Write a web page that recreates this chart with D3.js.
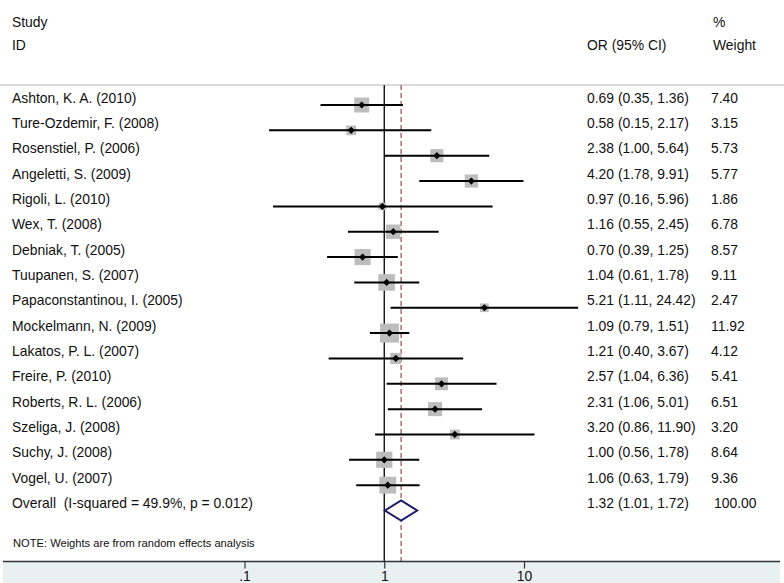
<!DOCTYPE html>
<html><head><meta charset="utf-8">
<script src="https://cdn.jsdelivr.net/npm/d3@7"></script>
<style>body{margin:0;background:#fff}svg{display:block}text{font-family:"Liberation Sans",Arial,sans-serif;fill:#111;white-space:pre}</style>
</head><body>
<script>
const studies = ["Ashton, K. A. (2010)","Ture-Ozdemir, F. (2008)","Rosenstiel, P. (2006)","Angeletti, S. (2009)","Rigoli, L. (2010)","Wex, T. (2008)","Debniak, T. (2005)","Tuupanen, S. (2007)","Papaconstantinou, I. (2005)","Mockelmann, N. (2009)","Lakatos, P. L. (2007)","Freire, P. (2010)","Roberts, R. L. (2006)","Szeliga, J. (2008)","Suchy, J. (2008)","Vogel, U. (2007)"];
const orValues = [0.69,0.58,2.38,4.20,0.97,1.16,0.70,1.04,5.21,1.09,1.21,2.57,2.31,3.20,1.00,1.06];
const lowerCI = [0.35,0.15,1.00,1.78,0.16,0.55,0.39,0.61,1.11,0.79,0.40,1.04,1.06,0.86,0.56,0.63];
const upperCI = [1.36,2.17,5.64,9.91,5.96,2.45,1.25,1.78,24.42,1.51,3.67,6.36,5.01,11.90,1.78,1.79];
const weights = [7.40,3.15,5.73,5.77,1.86,6.78,8.57,9.11,2.47,11.92,4.12,5.41,6.51,3.20,8.64,9.36];
const overallLabel = "Overall  (I-squared = 49.9%, p = 0.012)";
const overall = {or:1.32, lo:1.01, hi:1.72, weight:"100.00"};
const tickValues = [0.1, 1, 10];
const tickLabels = [".1", "1", "10"];
const noteText = "NOTE: Weights are from random effects analysis";

const W = 784, H = 583;
const svg = d3.select("body").append("svg").attr("width", W).attr("height", H);

const x = d3.scaleLog().domain([0.1, 10]).range([244.5, 524]);
const y = d3.scaleLinear().domain([0, 16]).range([105, 510.5]);
const size = d3.scaleSqrt().domain([0, 11.92]).range([0, 19]);
const f2 = d3.format(".2f");

const topY = 85, axisY = 561.5, fs = 13.9, colOR = 587, colW = 711;

// bottom panel
svg.append("rect").attr("x", 3).attr("y", axisY).attr("width", 777).attr("height", H - axisY).attr("fill", "#e9f0f1");
// top separator
svg.append("line").attr("x1", 0).attr("x2", W).attr("y1", topY).attr("y2", topY).attr("stroke", "#cfcfcf").attr("stroke-width", 1.5);

// headers
const hdr = svg.append("g").attr("font-size", fs);
hdr.append("text").attr("x", 12).attr("y", 27).text("Study");
hdr.append("text").attr("x", 12).attr("y", 50).text("ID");
hdr.append("text").attr("x", colOR).attr("y", 50).text("OR (95% CI)");
hdr.append("text").attr("x", colW + 2).attr("y", 27).text("%");
hdr.append("text").attr("x", colW + 2).attr("y", 50).text("Weight");

// reference lines
svg.append("line").attr("x1", x(1)).attr("x2", x(1)).attr("y1", topY).attr("y2", axisY).attr("stroke", "#000").attr("stroke-width", 1.3);
svg.append("line").attr("x1", x(overall.or)).attr("x2", x(overall.or)).attr("y1", topY).attr("y2", axisY)
  .attr("stroke", "#b07a7c").attr("stroke-width", 1.6).attr("stroke-dasharray", "5,3");

const data = studies.map((s, i) => ({s, or: orValues[i], lo: lowerCI[i], hi: upperCI[i], w: weights[i], i}));

const rows = svg.append("g").selectAll("g").data(data).join("g");
rows.append("rect")
  .attr("x", d => x(d.or) - size(d.w) / 2).attr("y", d => y(d.i) - size(d.w) / 2)
  .attr("width", d => size(d.w)).attr("height", d => size(d.w)).attr("fill", "#bdbdbd");
rows.append("line").attr("x1", d => x(d.lo)).attr("x2", d => x(d.hi)).attr("y1", d => y(d.i)).attr("y2", d => y(d.i))
  .attr("stroke", "#000").attr("stroke-width", 2);
rows.append("path").attr("d", d => { const cx = x(d.or), cy = y(d.i), r = 3.6; return `M${cx-r},${cy}L${cx},${cy-r}L${cx+r},${cy}L${cx},${cy+r}Z`; }).attr("fill", "#000");
rows.append("text").attr("x", 12).attr("y", d => y(d.i) - 2.5).attr("font-size", fs).text(d => d.s);
rows.append("text").attr("x", colOR).attr("y", d => y(d.i) - 2.5).attr("font-size", fs).text(d => `${f2(d.or)} (${f2(d.lo)}, ${f2(d.hi)})`);
rows.append("text").attr("x", colW).attr("y", d => y(d.i) - 2.5).attr("font-size", fs).text(d => f2(d.w));

// overall
const oy = y(16);
svg.append("path").attr("d", `M${x(overall.lo)},${oy}L${x(overall.or)},${oy-10}L${x(overall.hi)},${oy}L${x(overall.or)},${oy+10}Z`)
  .attr("fill", "#fff").attr("stroke", "#1a1a6e").attr("stroke-width", 2);
svg.append("text").attr("x", 12).attr("y", oy - 2.5).attr("font-size", fs).text(overallLabel);
svg.append("text").attr("x", colOR).attr("y", oy - 2.5).attr("font-size", fs).text(`${f2(overall.or)} (${f2(overall.lo)}, ${f2(overall.hi)})`);
svg.append("text").attr("x", colW + 3).attr("y", oy - 2.5).attr("font-size", fs).text(overall.weight);

// note
svg.append("text").attr("x", 13).attr("y", 547).attr("font-size", 11.15).text(noteText);

// axis
const axis = d3.axisBottom(x).tickValues(tickValues).tickFormat((d, i) => tickLabels[i]).tickSize(7).tickPadding(3);
const ag = svg.append("g").attr("transform", `translate(0,${axisY})`).call(axis);
ag.select(".domain").remove();
ag.selectAll(".tick line").attr("stroke", "#333").attr("stroke-width", 1.2);
ag.selectAll(".tick text").attr("font-size", fs).attr("font-family", "Liberation Sans, Arial, sans-serif").attr("fill", "#111");
svg.append("line").attr("x1", 3).attr("x2", 780).attr("y1", axisY).attr("y2", axisY).attr("stroke", "#333").attr("stroke-width", 1.6);
</script>
</body></html>
